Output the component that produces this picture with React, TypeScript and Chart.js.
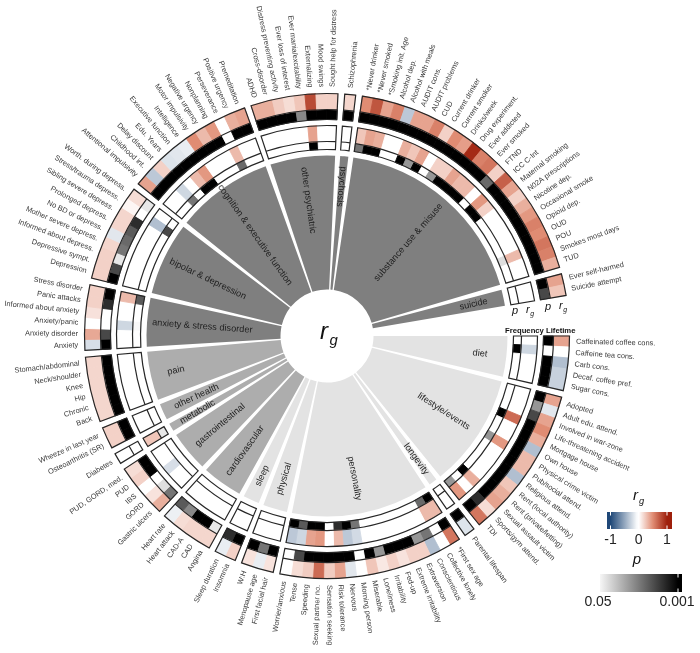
import React, { useEffect, useRef } from "react";
import { Chart, registerables } from "chart.js";

Chart.register(...registerables);

const groupNames = ["diet", "lifestyle/events", "longevity", "personality", "physical", "sleep", "cardiovascular", "gastrointestinal", "metabolic", "other health", "pain", "anxiety & stress disorder", "bipolar & depression", "cognition & executive function", "other psychiatric", "psychosis", "substance use & misuse", "suicide"];
const groupSizes = [5, 14, 1, 17, 3, 2, 5, 5, 1, 2, 6, 6, 9, 12, 8, 1, 25, 2];

const traits = [
  "Caffeinated coffee cons.", "Caffeine tea cons.", "Carb cons.", "Decaf. coffee pref.", "Sugar cons.",
  "Adopted", "Adult edu. attend.", "Involved in war-zone", "Life-threatening accident", "Mortgage house", "Own house", "Physical crime victim", "Pub/social attend.", "Religious attend.", "Rent (local authority)", "Rent (private/letting)", "Sexual assault victim", "Sports/gym attend.", "TDI",
  "Parental lifespan",
  "*First sex age", "Collective lonely", "Conscientious", "Extraversion", "Extreme irritability", "Fed-up", "Irritability", "Loneliness", "Miserable", "Morning person", "Nervous", "Risk tolerance", "Sensation seeking", "Sexual partner no.", "Speeding", "Tense", "Worrier/anxious",
  "First facial hair", "Menopause age", "W:H",
  "Insomnia", "Sleep duration",
  "Angina", "CAD", "CAD-A", "Heart attack", "Heart rate",
  "Gastric ulcers", "GORD", "IBS", "PUD", "PUD, GORD, med.",
  "Diabetes",
  "Osteoarthritis (SR)", "Wheeze in last year",
  "Back", "Chronic", "Hip", "Knee", "Neck/shoulder", "Stomach/abdominal",
  "Anxiety", "Anxiety disorder", "Anxiety/panic", "Informed about anxiety", "Panic attacks", "Stress disorder",
  "Depression", "Depressive sympt.", "Informed about depress.", "Mother severe depress.", "No BD or depress.", "Prolonged depress.", "Sibling severe depress.", "Stress/trauma depress.", "Worth. during depress.",
  "Attentional impulsivity", "Childhood int.", "Delay discount", "Edu. Years", "Executive function", "Intelligence", "Motor impulsivity", "Negative urgency", "Nonplanning", "Perseverance", "Positive urgency", "Premeditation",
  "ADHD", "Cross-disorder", "Distress preventing activity", "Ever loss of interest", "Ever mania/excitability", "Externalizing", "Mood swings", "Sought help for distress",
  "Schizophrenia",
  "*Never drinker", "*Never smoked", "*Smoking init. Age", "Alcohol dep.", "Alcohol with meals", "AUDIT cons.", "AUDIT problems", "CUD", "Current drinker", "Current smoker", "Drinks/week", "Drug experiment.", "Ever addicted", "Ever smoked", "FTND", "ICC C-Int", "Maternal smoking", "N02A prescriptions", "Nicotine dep.", "Occasional smoke", "Opioid dep.", "OUD", "POU", "Smokes most days", "TUD",
  "Ever self-harmed", "Suicide attempt",
];

const lifetimeRg = [
  .4, 0, -.35, -.25, -.25,
  .4, -.13, .4, .5, .35, -.35, .3, .3, -.35, .25, .35, .4, .15, .6,
  -.15,
  .6, 0, -.35, .2, .2, .12, .2, .1, .25, 0, -.13, .4, .22, .65, .22, .15, 0,
  .12, -.1, .12,
  .2, -.1,
  .18, .18, .18, .15, -.08,
  .35, .12, 0, .2, .15,
  0,
  .2, .2,
  .18, .18, .18, .18, .18, .18,
  -.18, .38, 0, .13, .2, .2,
  .2, .2, .2, .18, -.13, .18, .18, .04, .15,
  .4, -.3, .2, -.15, -.13, -.1, .5, .3, .45, 0, .35, .4,
  .35, .35, .22, .15, .25, .8, .2, .2,
  .18,
  .5, .75, .4, .55, -.3, .4, .4, .55, .2, .5, .42, .95, .55, .6, .2, .7, .4, .2, .35, .45, .55, .5, .6, .55, .35,
  .4, .25,
];
const lifetimeP = [
  .001, 1, .001, .001, .001,
  .001, .01, .003, .001, .001, .001, .001, .001, .001, .001, .001, .001, .002, .001,
  .001,
  .001, 1, .006, .01, .001, .001, .001, .01, .001, 1, .001, .001, .001, .001, .001, .003, 1,
  .001, .006, .001,
  .001, .002,
  .035, .001, .001, .008, .004,
  .006, .03, 1, .001, .001,
  1,
  .001, .001,
  .001, .001, .001, .001, .001, .001,
  .001, .003, 1, 1, .002, .001,
  .001, .003, .035, .006, .005, .004, .002, 1, .035,
  .001, .001, .001, .001, .001, .001, .001, .001, .001, 1, .001, .001,
  .001, .001, .001, .001, .008, .001, .001, .001,
  .001,
  .001, .001, .001, .001, .001, .001, .001, .001, .001, .001, .001, .001, .001, .001, .005, .001, .001, .001, .001, .001, .001, .001, .001, .001, .001,
  .001, .003,
];
const frequencyRg = [
  0, -.22, 0, 0, 0,
  0, 0, 0, .65, 0, 0, .45, 0, 0, 0, 0, .35, 0, .45,
  0,
  .3, .3, 0, 0, 0, 0, 0, 0, 0, -.2, -.3, .3, 0, .45, .4, -.22, -.3,
  0, 0, 0,
  0, 0,
  0, 0, 0, 0, 0,
  0, 0, -.18, 0, 0,
  .25,
  0, 0,
  0, 0, 0, 0, 0, 0,
  0, 0, -.22, 0, 0, .3,
  0, 0, 0, 0, 0, 0, 0, -.35, 0,
  0, 0, -.22, 0, .3, .45, 0, 0, 0, .3, 0, 0,
  0, 0, 0, 0, 0, .4, 0, 0,
  0,
  .25, .4, .35, 0, 0, .35, .25, .4, 0, .2, .2, .4, .3, .3, 0, .45, .2, 0, 0, 0, 0, 0, .3, 0, 0,
  0, 0,
];
const frequencyP = [
  1, .001, 1, 1, 1,
  1, 1, 1, .001, 1, 1, .01, 1, 1, 1, 1, .001, 1, .01,
  1,
  .001, .005, 1, 1, 1, 1, 1, 1, 1, .006, .001, .002, 1, .001, .001, .004, .001,
  1, 1, 1,
  1, 1,
  1, 1, 1, 1, 1,
  1, 1, 1, 1, 1,
  .035,
  1, 1,
  1, 1, 1, 1, 1, 1,
  1, 1, .045, 1, 1, .004,
  1, 1, 1, 1, 1, 1, 1, .003, 1,
  1, 1, .006, 1, .001, .001, 1, 1, 1, .005, 1, 1,
  1, 1, 1, 1, 1, .001, 1, 1,
  1,
  .006, .001, .001, 1, 1, .001, .01, .001, 1, .01, .001, .001, .001, .001, 1, .001, .001, 1, 1, 1, 1, 1, .03, 1, 1,
  1, 1,
];

const legendRgTicks = [-1, 0, 1];
const legendPTicks = ["0.05", "0.001"];

// ---- layout and style (kept apart from the data) ----
const W = 700, H = 653;
const CX = 327, CY = 336;
const OUTER = 242.5;
const HOLE = 46.5;
const GROUP_GAP = 0.615;
const END_GAP = 3.7;
const ringWeights = [16, 10, 6, 16, 8, 6, 134];
const groupShades = ["#e3e3e3", "#e3e3e3", "#e3e3e3", "#e3e3e3", "#e3e3e3", "#e3e3e3", "#adadad", "#adadad", "#adadad", "#adadad", "#adadad", "#7f7f7f", "#7f7f7f", "#7f7f7f", "#7f7f7f", "#7f7f7f", "#7f7f7f", "#7f7f7f"];
const groupLabelRadii = [154, 139, 152, 145, 149, 154, 141, 139, 150, 144, 155, 125, 132, 124, 137, 150, 124, 150];
const FONT = '"Liberation Sans", Arial, sans-serif';
const RED_MID = [224, 140, 115];
const RED = [158, 31, 11];
const BLUE = [31, 72, 120];

function mix(a: number[], b: number[], t: number) {
  const v = a.map((x, i) => Math.round(x + (b[i] - x) * t));
  return `rgb(${v[0]},${v[1]},${v[2]})`;
}
const WHITE = [255, 255, 255];
function rgColor(v: number) {
  if (v < 0) return mix(WHITE, BLUE, Math.min(1, -v));
  return v < 0.5 ? mix(WHITE, RED_MID, v / 0.5) : mix(RED_MID, RED, Math.min(1, (v - 0.5) / 0.5));
}
function pColor(p: number) {
  const lo = Math.log(0.05), hi = Math.log(0.001);
  const t = Math.max(0, Math.min(1, (lo - Math.log(p)) / (lo - hi)));
  const g = Math.round(255 * (1 - t));
  return `rgb(${g},${g},${g})`;
}

function ringDataset(values: number[], colorFn: (v: number) => string, weight: number) {
  const data: number[] = [];
  const backgroundColor: string[] = [];
  let k = 0;
  groupSizes.forEach((n, g) => {
    for (let i = 0; i < n; i++) {
      const col = colorFn(values[k++]);
      data.push(1);
      backgroundColor.push(col);
    }
    data.push(g === groupSizes.length - 1 ? END_GAP : GROUP_GAP);
    backgroundColor.push("rgba(0,0,0,0)");
  });
  const borderColor = backgroundColor.slice();
  return { data, backgroundColor, borderColor, borderWidth: backgroundColor.map((c) => (c.startsWith("rgba") ? 0 : 0.9)), weight };
}

function wedgeDataset(weight: number) {
  const data: number[] = [];
  const backgroundColor: string[] = [];
  groupSizes.forEach((n, g) => {
    data.push(n);
    backgroundColor.push(groupShades[g]);
    data.push(g === groupSizes.length - 1 ? END_GAP : GROUP_GAP);
    backgroundColor.push("rgba(0,0,0,0)");
  });
  return { data, backgroundColor, borderWidth: 0, weight };
}

const spacer = (weight: number) => ({ data: [1], backgroundColor: ["rgba(0,0,0,0)"], borderWidth: 0, weight });

function strokeBlock(ctx: CanvasRenderingContext2D, a: any, b: any, rgEl: any, pEl: any) {
  const s = a.startAngle, e = b.endAngle;
  const { x, y } = a;
  ctx.beginPath();
  ctx.arc(x, y, rgEl.outerRadius, s, e);
  ctx.arc(x, y, pEl.innerRadius, e, s, true);
  ctx.closePath();
  ctx.stroke();
  ctx.beginPath();
  ctx.arc(x, y, rgEl.innerRadius, s, e);
  ctx.stroke();
}

function rgGlyph(ctx: CanvasRenderingContext2D, x: number, y: number, size: number) {
  ctx.textAlign = "left";
  ctx.textBaseline = "alphabetic";
  ctx.font = `italic ${size}px ${FONT}`;
  ctx.fillText("r", x, y);
  const w = ctx.measureText("r").width;
  ctx.font = `italic ${size * 0.62}px ${FONT}`;
  ctx.fillText("g", x + w + size * 0.06, y + size * 0.24);
}

const decorations = {
  id: "decorations",
  afterDatasetsDraw(chart: any) {
    const ctx: CanvasRenderingContext2D = chart.ctx;
    const rings = [0, 1, 3, 4].map((i) => chart.getDatasetMeta(i).data);
    const wedges = chart.getDatasetMeta(6).data;
    ctx.save();

    // block outlines, one per category and per ring pair
    ctx.strokeStyle = "#262626";
    ctx.lineWidth = 1.2;
    let seg = 0;
    groupSizes.forEach((n) => {
      const first = seg, last = seg + n - 1;
      strokeBlock(ctx, rings[0][first], rings[0][last], rings[0][first], rings[1][first]);
      strokeBlock(ctx, rings[2][first], rings[2][last], rings[2][first], rings[3][first]);
      seg += n + 1;
    });

    // trait labels
    ctx.fillStyle = "#3a3a3a";
    ctx.font = `7.4px ${FONT}`;
    ctx.textBaseline = "middle";
    seg = 0;
    let t = 0;
    groupSizes.forEach((n) => {
      for (let i = 0; i < n; i++) {
        const el = rings[0][seg++];
        const a = (el.startAngle + el.endAngle) / 2;
        const r = 249;
        ctx.save();
        ctx.translate(el.x + r * Math.cos(a), el.y + r * Math.sin(a));
        const right = Math.cos(a) >= 0;
        ctx.rotate(right ? a : a + Math.PI);
        ctx.textAlign = right ? "left" : "right";
        ctx.fillText(traits[t++], 0, 0);
        ctx.restore();
      }
      seg++;
    });

    // category labels
    ctx.fillStyle = "#1e1e1e";
    ctx.font = `9.2px ${FONT}`;
    ctx.textAlign = "center";
    groupNames.forEach((name, g) => {
      const el = wedges[g * 2];
      const a = (el.startAngle + el.endAngle) / 2;
      const r = groupLabelRadii[g];
      ctx.save();
      ctx.translate(el.x + r * Math.cos(a), el.y + r * Math.sin(a));
      const right = Math.cos(a) >= 0 && name !== "psychosis";
      ctx.rotate(right ? a : a + Math.PI);
      ctx.fillText(name, 0, 0);
      ctx.restore();
    });

    // centre label and ring captions
    ctx.fillStyle = "#111";
    rgGlyph(ctx, CX - 7, CY + 3, 24);
    ctx.font = `italic 11px ${FONT}`;
    ctx.textBaseline = "alphabetic";
    ctx.textAlign = "center";
    ctx.fillText("p", 515, 314);
    ctx.fillText("p", 548, 310);
    rgGlyph(ctx, 526, 313, 11);
    rgGlyph(ctx, 559, 309, 11);
    ctx.textAlign = "left";
    ctx.font = `bold 7.7px ${FONT}`;
    ctx.fillText("Frequency", 505, 333);
    ctx.fillText("Lifetime", 546, 333);

    // r_g legend
    const bx = 607, bw = 65, by = 512, bh = 17;
    const x0 = 610.5, x1 = 667, xm = (x0 + x1) / 2;
    const grad = ctx.createLinearGradient(x0, 0, x1, 0);
    grad.addColorStop(0, rgColor(-1));
    grad.addColorStop(0.46, rgColor(-0.04));
    grad.addColorStop(0.5, "#fff");
    grad.addColorStop(0.54, rgColor(0.08));
    grad.addColorStop(0.75, rgColor(0.5));
    grad.addColorStop(1, rgColor(1));
    ctx.fillStyle = grad;
    ctx.fillRect(bx, by, bw, bh);
    ctx.fillStyle = "#fff";
    legendRgTicks.forEach((v) => {
      const x = xm + (v * (x1 - x0)) / 2;
      ctx.fillRect(x - 0.5, by, 1, 3.5);
      ctx.fillRect(x - 0.5, by + bh - 3.5, 1, 3.5);
    });
    ctx.fillStyle = "#222";
    ctx.textAlign = "center";
    ctx.textBaseline = "middle";
    ctx.font = `14px ${FONT}`;
    legendRgTicks.forEach((v) => {
      const x = xm + (v * (x1 - x0)) / 2;
      ctx.fillText(String(v), x, 540);
    });
    ctx.fillStyle = "#111";
    rgGlyph(ctx, 633, 500, 15);

    // p legend
    ctx.font = `italic 15px ${FONT}`;
    ctx.textAlign = "center";
    ctx.textBaseline = "alphabetic";
    ctx.fillText("p", 637, 564);
    const gx = 600, gw = 82, gy = 574, gh = 18;
    const g2 = ctx.createLinearGradient(gx, 0, 678, 0);
    g2.addColorStop(0, "#f6f6f6");
    g2.addColorStop(1, "#000");
    ctx.fillStyle = g2;
    ctx.fillRect(gx, gy, gw, gh);
    ctx.fillStyle = "#fff";
    ctx.fillRect(677.5, gy, 1, 3.5);
    ctx.fillRect(677.5, gy + gh - 3.5, 1, 3.5);
    ctx.fillStyle = "#222";
    ctx.font = `14px ${FONT}`;
    ctx.textBaseline = "middle";
    ctx.fillText(legendPTicks[0], 598, 602);
    ctx.fillText(legendPTicks[1], 677, 602);
    ctx.restore();
  },
};

export default function App() {
  const ref = useRef<HTMLCanvasElement | null>(null);
  useEffect(() => {
    if (!ref.current) return;
    const chart = new Chart(ref.current, {
      type: "doughnut",
      data: {
        datasets: [
          ringDataset(lifetimeRg, rgColor, ringWeights[0]),
          ringDataset(lifetimeP, pColor, ringWeights[1]),
          spacer(ringWeights[2]),
          ringDataset(frequencyRg, rgColor, ringWeights[3]),
          ringDataset(frequencyP, pColor, ringWeights[4]),
          spacer(ringWeights[5]),
          wedgeDataset(ringWeights[6]),
        ] as any,
      },
      options: {
        responsive: false,
        maintainAspectRatio: false,
        animation: false,
        events: [],
        rotation: 90,
        radius: OUTER,
        cutout: `${(HOLE / OUTER) * 100}%`,
        layout: { padding: { left: 0, right: W - 2 * CX, top: 2 * CY - H, bottom: 0 } },
        plugins: { legend: { display: false }, tooltip: { enabled: false } },
      } as any,
      plugins: [decorations],
    });
    return () => chart.destroy();
  }, []);
  return (
    <div style={{ position: "fixed", left: 0, top: 0, width: W, height: H, background: "#fff" }}>
      <canvas ref={ref} width={W} height={H} style={{ display: "block" }} />
    </div>
  );
}
